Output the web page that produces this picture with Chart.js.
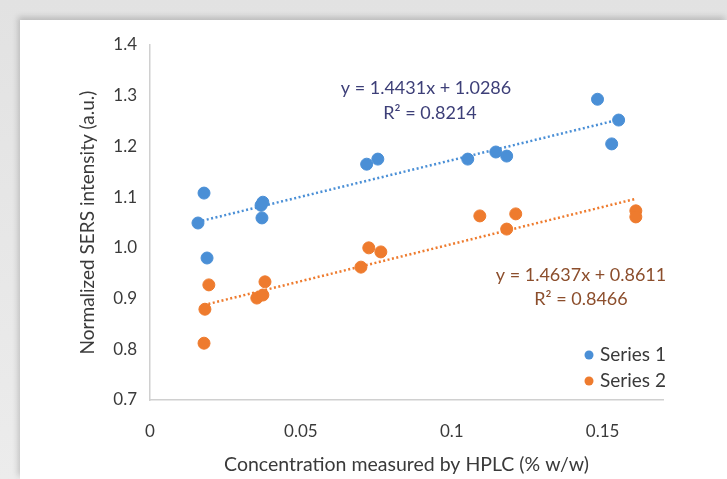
<!DOCTYPE html>
<html>
<head>
<meta charset="utf-8">
<script src="https://cdn.jsdelivr.net/npm/chart.js@4"></script>
<style>
  html, body { margin: 0; padding: 0; }
  body { width: 727px; height: 479px; overflow: hidden; position: relative;
         background: linear-gradient(#e2e2e2, #ececec); }
  #panel { position: absolute; left: 20px; top: 20px; right: 0; bottom: 0;
           background: #fff; box-shadow: -2px -3px 6px rgba(0,0,0,0.18); }
  #my-chart { position: absolute; left: 0; top: 0; }
</style>
</head>
<body>
<div id="panel"></div>
<canvas id="my-chart" width="727" height="479"></canvas>
<script>
// series 1 (blue)
const series1X = [0.0159, 0.0179, 0.0189, 0.0374, 0.0368, 0.0371, 0.0718, 0.0755, 0.1053, 0.1146, 0.1182, 0.1483, 0.1553, 0.1530]
const series1Y = [1.049, 1.108, 0.980, 1.090, 1.084, 1.059, 1.165, 1.175, 1.175, 1.189, 1.181, 1.293, 1.252, 1.205]
// series 2 (orange)
const series2X = [0.0195, 0.0182, 0.0179, 0.0381, 0.0354, 0.0374, 0.0725, 0.0765, 0.0699, 0.1093, 0.1212, 0.1182, 0.1610, 0.1610]
const series2Y = [0.927, 0.879, 0.812, 0.933, 0.901, 0.907, 1.000, 0.992, 0.962, 1.063, 1.067, 1.037, 1.073, 1.061]
// linear trendlines as printed on the chart
const trend1 = { slope: 1.4431, intercept: 1.0286, r2: '0.8214' }
const trend2 = { slope: 1.4637, intercept: 0.8611, r2: '0.8466' }

const seriesLabels = ['Series 1', 'Series 2']
const xTicks = [0, 0.05, 0.1, 0.15]
const xTickLabels = ['0', '0.05', '0.1', '0.15']
const yTicks = [0.7, 0.8, 0.9, 1.0, 1.1, 1.2, 1.3, 1.4]

const blue = '#4a8fd6'
const orange = '#ee7b2e'
const textColor = '#3a3a3a'
const fontFamily = 'Lato, "Open Sans", sans-serif'

const toPoints = (xs, ys) => xs.map((x, i) => ({ x: x, y: ys[i] }))
const trendPoints = (xs, t) => {
    const lo = Math.min(...xs), hi = Math.max(...xs)
    return [lo, hi].map(x => ({ x: x, y: t.slope * x + t.intercept }))
}

// equation labels + legend, drawn on top of the plot
const overlay = {
    id: 'overlay',
    afterDatasetsDraw(chart) {
        const c = chart.ctx
        c.save()
        c.font = '18px ' + fontFamily
        c.textAlign = 'center'
        c.textBaseline = 'middle'
        c.fillStyle = '#3d3f78'
        c.fillText('y = ' + trend1.slope + 'x + ' + trend1.intercept, 426, 88)
        c.fillText('R² = ' + trend1.r2, 430, 113)
        c.fillStyle = '#8c4e2c'
        c.fillText('y = ' + trend2.slope + 'x + ' + trend2.intercept, 581, 275)
        c.fillText('R² = ' + trend2.r2, 581, 299)

        // legend
        const colors = [blue, orange]
        c.font = '19px ' + fontFamily
        c.textAlign = 'left'
        seriesLabels.forEach((lab, i) => {
            const y = 355 + i * 26
            c.beginPath()
            c.arc(589, y, 4.5, 0, Math.PI * 2)
            c.fillStyle = colors[i]
            c.fill()
            c.fillStyle = textColor
            c.fillText(lab, 600, y)
        })
        c.restore()
    }
}

const ctx = document.getElementById('my-chart').getContext('2d')
new Chart(ctx, {
    type: 'scatter',
    data: {
        datasets: [
            {
                label: seriesLabels[0],
                data: toPoints(series1X, series1Y),
                backgroundColor: blue,
                borderColor: blue,
                pointRadius: 6,
                pointHoverRadius: 6
            },
            {
                label: seriesLabels[1],
                data: toPoints(series2X, series2Y),
                backgroundColor: orange,
                borderColor: orange,
                pointRadius: 6,
                pointHoverRadius: 6
            },
            {
                type: 'line',
                label: 'Linear (Series 1)',
                data: trendPoints(series1X, trend1),
                borderColor: blue,
                borderWidth: 2.5,
                borderDash: [2, 2.5],
                pointRadius: 0,
                fill: false
            },
            {
                type: 'line',
                label: 'Linear (Series 2)',
                data: trendPoints(series2X, trend2),
                borderColor: orange,
                borderWidth: 2.5,
                borderDash: [2, 2.5],
                pointRadius: 0,
                fill: false
            }
        ]
    },
    options: {
        responsive: false,
        animation: false,
        layout: { padding: { left: 0, top: 45, right: 64, bottom: 0 } },
        plugins: {
            legend: { display: false },
            tooltip: { enabled: false }
        },
        scales: {
            x: {
                type: 'linear',
                min: 0,
                max: 0.17,
                afterFit: s => { s.height = 79 },
                afterBuildTicks: s => { s.ticks = xTicks.map(v => ({ value: v })) },
                grid: { display: false, drawTicks: false },
                border: { display: true, color: '#d0d0d0', width: 1.5 },
                ticks: {
                    padding: 21,
                    color: textColor,
                    font: { family: fontFamily, size: 17 },
                    callback: (v) => xTickLabels[xTicks.indexOf(v)]
                },
                title: {
                    display: true,
                    text: 'Concentration measured by HPLC (% w/w)',
                    color: textColor,
                    font: { family: fontFamily, size: 19.5 },
                    padding: { top: 0, bottom: 3 }
                }
            },
            y: {
                min: 0.7,
                max: 1.4,
                afterFit: s => { s.width = 150 },
                afterBuildTicks: s => { s.ticks = yTicks.map(v => ({ value: v })) },
                grid: { display: false, drawTicks: false },
                border: { display: true, color: '#d0d0d0', width: 1.5 },
                ticks: {
                    padding: 13,
                    color: textColor,
                    font: { family: fontFamily, size: 17 },
                    callback: (v) => v.toFixed(1)
                },
                title: {
                    display: true,
                    text: 'Normalized SERS intensity (a.u.)',
                    color: textColor,
                    font: { family: fontFamily, size: 19 },
                    padding: { top: 76, bottom: 0 }
                }
            }
        }
    },
    plugins: [overlay]
})
</script>
</body>
</html>
